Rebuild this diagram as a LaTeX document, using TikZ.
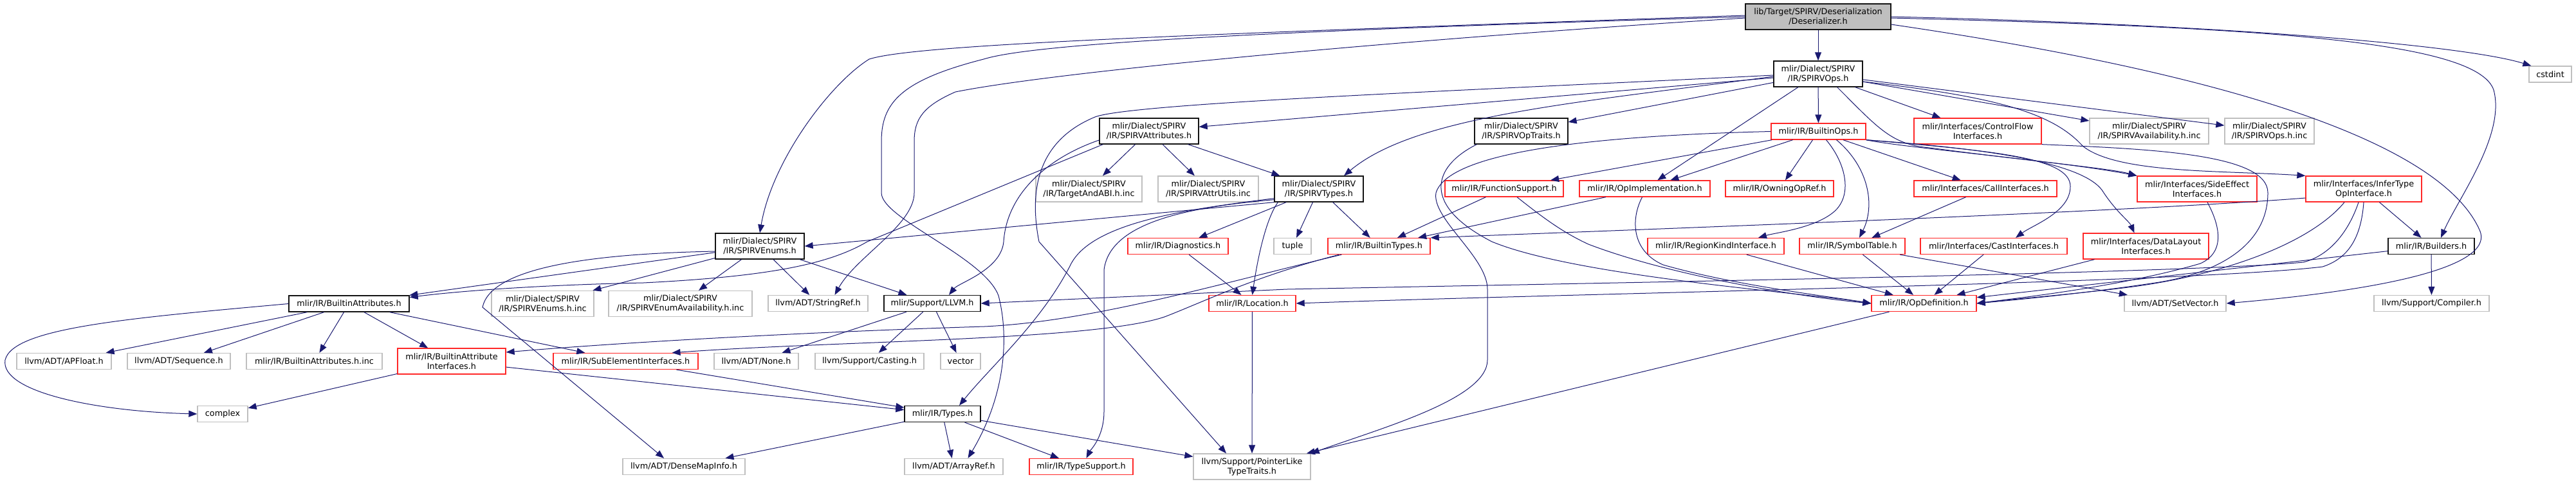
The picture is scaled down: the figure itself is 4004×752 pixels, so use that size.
\documentclass[tikz,border=0pt]{standalone}
\usepackage{fontspec}
\newfontfamily\dvsans{DejaVu Sans}
\usetikzlibrary{arrows.meta}
\definecolor{cEdge}{RGB}{25,25,112}
\definecolor{cDoc}{RGB}{20,20,20}
\definecolor{cRoot}{RGB}{191,191,191}
\definecolor{cExt}{RGB}{191,191,191}
\definecolor{cTrunc}{RGB}{255,40,40}

\begin{document}
\begin{tikzpicture}[
  x=0.5pt, y=-0.5pt, font=\dvsans\fontsize{6.4pt}{7.5pt}\selectfont,
  file/.style ={draw, line width=0.65pt, align=center, inner sep=0pt,
                minimum height=12.5pt, fill=white, text=black},
  tall/.style ={minimum height=20pt},
  mw/.style   ={minimum width=#1pt},
  root/.style ={file, draw=cDoc, fill=cRoot},
  doc/.style  ={file, draw=cDoc},
  trunc/.style={file, draw=cTrunc},
  ext/.style  ={file, draw=cExt},
  dep/.style  ={-{Triangle[length=6.5pt,width=5pt]}, line width=0.5pt, draw=cEdge},
]
\useasboundingbox (0,0) rectangle (4004,752);

% rows (px, y down): 26 / 115 / 204 / 294 / 383 / 472 / 562 / 644 / 726
\node[root,tall,mw=113]  (des)      at (2826,26)    {lib/Target/SPIRV/Deserialization\\/Deserializer.h};
\node[doc,tall,mw=69]    (ops)      at (2826,115)   {mlir/Dialect/SPIRV\\/IR/SPIRVOps.h};
\node[ext,mw=33]         (cstd)     at (3964,115.5) {cstdint};

\node[doc,tall,mw=77]    (attr)     at (1786,204)   {mlir/Dialect/SPIRV\\/IR/SPIRVAttributes.h};
\node[doc,tall,mw=72.5]  (traits)   at (2364.5,204) {mlir/Dialect/SPIRV\\/IR/SPIRVOpTraits.h};
\node[trunc,mw=73.5]     (bops)     at (2826.5,204.5) {mlir/IR/BuiltinOps.h};
\node[trunc,tall,mw=99]  (cflow)    at (3074,204)   {mlir/Interfaces/ControlFlow\\Interfaces.h};
\node[ext,tall,mw=92.5]  (avail)    at (3340.5,204) {mlir/Dialect/SPIRV\\/IR/SPIRVAvailability.h.inc};
\node[ext,tall,mw=69.5]  (opsinc)   at (3527.5,204) {mlir/Dialect/SPIRV\\/IR/SPIRVOps.h.inc};

\node[ext,tall,mw=82.5]  (tabi)     at (1692.5,294) {mlir/Dialect/SPIRV\\/IR/TargetAndABI.h.inc};
\node[ext,tall,mw=78]    (autils)   at (1878,294)   {mlir/Dialect/SPIRV\\/IR/SPIRVAttrUtils.inc};
\node[doc,tall,mw=69]    (types)    at (2050,294)   {mlir/Dialect/SPIRV\\/IR/SPIRVTypes.h};
\node[trunc,mw=92]       (fsup)     at (2338,293.5) {mlir/IR/FunctionSupport.h};
\node[trunc,mw=101.5]    (opimpl)   at (2556.5,293.5) {mlir/IR/OpImplementation.h};
\node[trunc,mw=84]       (owning)   at (2766,293.5) {mlir/IR/OwningOpRef.h};
\node[trunc,mw=111]      (callif)   at (3086,293.5) {mlir/Interfaces/CallInterfaces.h};
\node[trunc,tall,mw=93]  (sidee)    at (3415,294)   {mlir/Interfaces/SideEffect\\Interfaces.h};
\node[trunc,tall,mw=90]  (infer)    at (3674,294)   {mlir/Interfaces/InferType\\OpInterface.h};

\node[doc,tall,mw=69]    (enums)    at (1181,383)   {mlir/Dialect/SPIRV\\/IR/SPIRVEnums.h};
\node[trunc,mw=78]       (diag)     at (1831,383)   {mlir/IR/Diagnostics.h};
\node[ext,mw=29]         (tuple)    at (2009,383)   {tuple};
\node[trunc,mw=79.5]     (btypes)   at (2143.5,383) {mlir/IR/BuiltinTypes.h};
\node[trunc,mw=106]      (rki)      at (2667,383)   {mlir/IR/RegionKindInterface.h};
\node[trunc,mw=82]       (symt)     at (2879,383)   {mlir/IR/SymbolTable.h};
\node[trunc,mw=114]      (castif)   at (3099,383)   {mlir/Interfaces/CastInterfaces.h};
\node[trunc,tall,mw=97.5] (dlayout) at (3335.5,383) {mlir/Interfaces/DataLayout\\Interfaces.h};
\node[doc,mw=67]         (builders) at (3779,383)   {mlir/IR/Builders.h};

\node[doc,mw=93.5]       (battr)    at (542.5,472.5) {mlir/IR/BuiltinAttributes.h};
\node[ext,tall,mw=79.5]  (enumsinc) at (843.5,472.5) {mlir/Dialect/SPIRV\\/IR/SPIRVEnums.h.inc};
\node[ext,tall,mw=111.5] (enumav)   at (1057.5,472.5) {mlir/Dialect/SPIRV\\/IR/SPIRVEnumAvailability.h.inc};
\node[ext,mw=77.5]       (strref)   at (1271.5,472) {llvm/ADT/StringRef.h};
\node[doc,mw=75]         (llvmh)    at (1449,472)   {mlir/Support/LLVM.h};
\node[trunc,mw=67.5]     (loc)      at (1946.5,472) {mlir/IR/Location.h};
\node[trunc,mw=81.5]     (opdef)    at (2990.5,472) {mlir/IR/OpDefinition.h};
\node[ext,mw=79]         (setvec)   at (3381,472)   {llvm/ADT/SetVector.h};
\node[ext,mw=89.5]       (compiler) at (3779.5,472) {llvm/Support/Compiler.h};

\node[ext,mw=73.5]       (apfloat)  at (99.5,562)   {llvm/ADT/APFloat.h};
\node[ext,mw=80]         (seq)      at (278,562)    {llvm/ADT/Sequence.h};
\node[ext,mw=105.5]      (battrinc) at (488.5,562)  {mlir/IR/BuiltinAttributes.h.inc};
\node[trunc,tall,mw=84]  (baif)     at (702,562)    {mlir/IR/BuiltinAttribute\\Interfaces.h};
\node[trunc,mw=112.5]    (subel)    at (972.5,562)  {mlir/IR/SubElementInterfaces.h};
\node[ext,mw=65.5]       (none)     at (1175.5,562) {llvm/ADT/None.h};
\node[ext,mw=84.5]       (casting)  at (1351.5,562) {llvm/Support/Casting.h};
\node[ext,mw=31]         (vector)   at (1493,562)   {vector};

\node[ext,mw=39]         (complex)  at (346,644)    {complex};
\node[doc,mw=59]         (typesh)   at (1465,644)   {mlir/IR/Types.h};

\node[ext,mw=95]         (dmi)      at (1063,726)   {llvm/ADT/DenseMapInfo.h};
\node[ext,mw=76.5]       (aref)     at (1482.5,726) {llvm/ADT/ArrayRef.h};
\node[trunc,mw=80.5]     (tsup)     at (1680.5,726) {mlir/IR/TypeSupport.h};
\node[ext,tall,mw=91]    (plike)    at (1946,726)   {llvm/Support/PointerLike\\TypeTraits.h};

% ----- the deserializer header -------------------------------------------
\draw[dep] (des) -- (ops);
\draw[dep] (des.east) .. controls (3450,38) and (3830,70) .. ([xshift=2pt]cstd.north west);
\draw[dep] ([yshift=-1pt]des.east) .. controls (3500,42) and (3850,62) .. (3876,140)
           .. controls (3895,210) and (3820,310) .. ([xshift=7.5pt]builders.north);
\draw[dep] ([yshift=-6pt]des.east) .. controls (3500,120) and (3800,230) .. (3855,360)
           .. controls (3880,430) and (3600,460) .. (setvec.east);
\draw[dep] ([yshift=1pt]des.west) .. controls (1800,55) and (1420,70) .. (1351,92)
           .. controls (1290,130) and (1200,250) .. (enums.north);
\draw[dep] (des.west) .. controls (1900,50) and (1600,70) .. (1529,92)
           .. controls (1400,125) and (1370,160) .. (1370,220) -- (1370,300)
           .. controls (1370,340) and (1530,400) .. (1552,460)
           .. controls (1570,530) and (1560,620) .. ([xshift=11pt]aref.north);
\draw[dep] ([yshift=-1pt]des.west) .. controls (2200,60) and (1650,110) .. (1485,143)
           .. controls (1435,165) and (1421,185) .. (1421,220) -- (1421,300)
           .. controls (1421,350) and (1330,400) .. ([xshift=13pt]strref.north);

% ----- SPIRVOps.h ---------------------------------------------------------
\draw[dep] (ops) -- (attr);
\draw[dep] (ops) -- (traits);
\draw[dep] ([yshift=-2pt]ops.west) .. controls (2450,160) and (2200,180) .. ([xshift=19.5pt]types.north);
\draw[dep] ([yshift=-1pt]ops.west) .. controls (2300,140) and (1760,160) .. (1702,182)
           .. controls (1610,220) and (1600,300) .. (1615,376) -- ([xshift=-20pt]plike.north);
\draw[dep] (ops) -- (bops);
\draw[dep] (ops) -- (opimpl);
\draw[dep] (ops) -- (cflow);
\draw[dep] (ops) -- (avail);
\draw[dep] (ops) -- (opsinc);
\draw[dep] ([xshift=-20pt]ops.south east) .. controls (2920,200) and (2940,225) .. (3000,230)
           .. controls (3150,250) and (3280,262) .. (sidee.north west);
\draw[dep] ([yshift=-6pt]ops.east) .. controls (3100,150) and (3190,175) .. (3237,227)
           .. controls (3290,270) and (3450,265) .. (infer.north west);

% ----- BuiltinOps.h -------------------------------------------------------
\draw[dep] (bops) -- (fsup);
\draw[dep] (bops) -- (opimpl);
\draw[dep] (bops) -- (owning);
\draw[dep] (bops) -- (callif);
\draw[dep] (bops.south east) .. controls (2960,230) and (3200,250) .. (sidee.north west);
\draw[dep] ([xshift=6pt]bops.south) .. controls (2870,255) and (2880,305) .. (2850,330)
           .. controls (2820,355) and (2760,362) .. ([xshift=33pt]rki.north);
\draw[dep] ([xshift=14pt]bops.south) .. controls (2905,260) and (2915,320) .. ([xshift=5.5pt]symt.north);
\draw[dep] (bops.south east) .. controls (3100,235) and (3218,245) .. (3218,290)
           .. controls (3218,330) and (3160,350) .. ([xshift=17pt]castif.north);
\draw[dep] (bops.south east) .. controls (3100,232) and (3245,255) .. (3270,300)
           .. controls (3290,330) and (3310,345) .. ([xshift=-9pt]dlayout.north);
\draw[dep] (bops.west) .. controls (2450,212) and (2250,240) .. (2232,300)
           .. controls (2225,340) and (2312,400) .. (2312,450) -- (2312,560)
           .. controls (2312,620) and (2150,665) .. (plike.north east);

% ----- second row of op headers -------------------------------------------
\draw[dep] ([xshift=2pt]traits.south west) .. controls (2225,260) and (2210,320) .. (2319,376)
           .. controls (2450,430) and (2800,455) .. (opdef.west);
\draw[dep] (fsup) -- (btypes);
\draw[dep] ([xshift=10pt]fsup.south) .. controls (2400,340) and (2430,362) .. (2469,380)
           .. controls (2600,430) and (2800,462) .. (opdef.west);
\draw[dep] (opimpl) -- (btypes);
\draw[dep] ([xshift=-2pt]opimpl.south) .. controls (2535,340) and (2535,390) .. (2585,412)
           .. controls (2700,445) and (2850,462) .. (opdef.west);
\draw[dep] (callif) -- (symt);
\draw[dep] ([xshift=8pt]sidee.south) .. controls (3450,350) and (3460,392) .. (3420,410)
           .. controls (3300,445) and (3150,462) .. (opdef.east);
\draw[dep] (cflow.south east) .. controls (3350,232) and (3525,240) .. (3525,300)
           .. controls (3525,380) and (3450,425) .. (3350,440)
           .. controls (3250,455) and (3150,465) .. (opdef.east);

% ----- InferTypeOpInterface.h ---------------------------------------------
\draw[dep] ([xshift=-15pt]infer.south) .. controls (3590,380) and (3450,430) .. (3300,448)
           .. controls (3200,460) and (3120,466) .. (opdef.east);
\draw[dep] ([xshift=-4pt]infer.south) .. controls (3650,362) and (3620,398) .. (3580,408)
           .. controls (3400,425) and (2500,440) .. (2000,450) -- (llvmh.east);
\draw[dep] (infer.south) .. controls (3670,370) and (3650,402) .. (3610,415)
           .. controls (3400,440) and (2500,455) .. (loc.east);
\draw[dep] ([yshift=-7pt]infer.west) .. controls (3300,330) and (2600,355) .. (btypes.north east);
\draw[dep] (infer) -- (builders);

% ----- interfaces into OpDefinition.h -------------------------------------
\draw[dep] (rki) -- (opdef);
\draw[dep] (symt) -- (opdef);
\draw[dep] (symt) -- (setvec);
\draw[dep] (castif) -- (opdef);
\draw[dep] (dlayout) -- (opdef);
\draw[dep] (builders) -- (opdef);
\draw[dep] (builders) -- (compiler);

% ----- SPIRVAttributes.h --------------------------------------------------
\draw[dep] (attr) -- (tabi);
\draw[dep] (attr) -- (autils);
\draw[dep] (attr) -- (types);
\draw[dep] ([yshift=-7pt]attr.west) .. controls (1630,245) and (1565,300) .. (1560,376)
           .. controls (1556,420) and (1490,440) .. ([xshift=13pt]llvmh.north);
\draw[dep] ([xshift=3pt]attr.south west) -- (1348,376)
           .. controls (1290,410) and (1200,430) .. (1000,440)
           .. controls (850,443) and (720,452) .. ([yshift=5pt]battr.east);

% ----- SPIRVTypes.h -------------------------------------------------------
\draw[dep] (types.south west) -- (enums.east);
\draw[dep] (types) -- (tuple);
\draw[dep] (types) -- (btypes);
\draw[dep] (types) -- (diag);
\draw[dep] ([xshift=3pt]types.south west) .. controls (1968,340) and (1955,400) .. (loc.north);
\draw[dep] ([yshift=3pt]types.south west) .. controls (1850,325) and (1700,345) .. (1665,410)
           .. controls (1620,500) and (1540,570) .. ([xshift=13pt]typesh.north);
\draw[dep] ([yshift=2pt]types.south west) .. controls (1850,322) and (1725,345) .. (1716,420)
           -- (1716,640) .. controls (1716,680) and (1695,700) .. ([xshift=4pt]tsup.north);
\draw[dep] (diag) -- (loc);

% ----- SPIRVEnums.h -------------------------------------------------------
\draw[dep] (enums) -- (battr);
\draw[dep] (enums) -- (enumsinc);
\draw[dep] (enums) -- (enumav);
\draw[dep] (enums) -- (strref);
\draw[dep] (enums) -- (llvmh);
\draw[dep] ([yshift=-4pt]enums.west) .. controls (900,395) and (762,420) .. (750,478)
           -- ([xshift=-15.5pt]dmi.north);

% ----- builtin attributes and types ---------------------------------------
\draw[dep] (battr) -- (apfloat);
\draw[dep] (battr) -- (seq);
\draw[dep] (battr) -- (battrinc);
\draw[dep] (battr) -- (baif);
\draw[dep] (battr) -- (subel);
\draw[dep] (battr.west) .. controls (200,495) and (20,510) .. (8,560)
           .. controls (0,610) and (150,640) .. (complex.west);
\draw[dep] (baif) -- (complex);
\draw[dep] (baif) -- (typesh);
\draw[dep] (subel) -- (typesh);
\draw[dep] ([xshift=11pt]btypes.south west) .. controls (1900,440) and (1700,500) .. (1530,508)
           .. controls (1300,515) and (1000,530) .. ([yshift=7pt]baif.east);
\draw[dep] ([xshift=9pt]btypes.south west) .. controls (1950,430) and (1870,470) .. (1810,493)
           .. controls (1700,530) and (1300,530) .. ([xshift=36pt]subel.north);

% ----- support headers ----------------------------------------------------
\draw[dep] (llvmh) -- (none);
\draw[dep] (llvmh) -- (casting);
\draw[dep] (llvmh) -- (vector);
\draw[dep] (typesh) -- (dmi);
\draw[dep] (typesh) -- (aref);
\draw[dep] (typesh) -- (tsup);
\draw[dep] (typesh) -- (plike);
\draw[dep] (loc) -- (plike);
\draw[dep] (opdef) -- (plike);

\end{tikzpicture}
\end{document}
